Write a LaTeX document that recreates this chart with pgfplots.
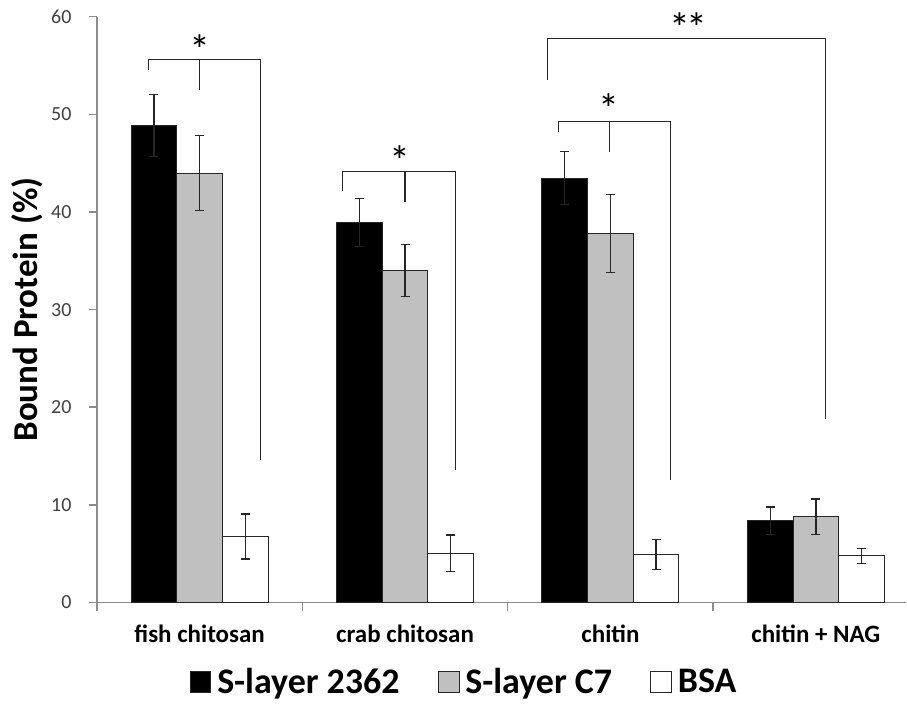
\documentclass[border=0pt]{standalone}
\usepackage{fontspec}
\setmainfont{Carlito}
\usepackage{pgfplots}
\pgfplotsset{compat=1.18}
\definecolor{axisgray}{HTML}{8C8C8C}
\definecolor{ticktext}{HTML}{404040}
\definecolor{bargray}{HTML}{C0C0C0}
\begin{document}
\begin{tikzpicture}
\begin{axis}[
  name=ax,
  scale only axis,
  width=810pt, height=586.3pt,
  xmin=-0.5, xmax=3.44, ymin=0, ymax=60,
  clip=false,
  ybar=0pt, bar width=45.7pt,
  axis x line=bottom, axis y line=left,
  axis line style={-, draw=axisgray, line width=1.5pt},
  ytick={0,10,...,60},
  tick align=outside,
  major tick length=8pt,
  tick style={draw=axisgray, line width=1.5pt},
  xtick={0,1,2,3},
  xticklabels={fish chitosan, crab chitosan, chitin, chitin + NAG},
  x tick style={draw=none},
  extra x ticks={-0.5,0.5,1.5,2.5},
  extra x tick labels={},
  extra x tick style={x tick style={draw=axisgray, line width=1.5pt}, major tick length=9pt},
  /pgf/number format/assume math mode=true,
  yticklabel shift=14pt,
  yticklabel style={font=\fontsize{20}{22}\selectfont, text=ticktext},
  xticklabel style={font=\bfseries\fontsize{25}{28}\selectfont, text=black, yshift=-11pt},
  ylabel={Bound Protein (\%)},
  every axis y label/.style={at={(axis description cs:-0.0864,0.5)}, rotate=90, anchor=center,
    font=\bfseries\fontsize{35}{40}\selectfont},
  legend style={at={(axis description cs:0.456,-0.135)}, anchor=center, draw=none,
    font=\bfseries\fontsize{36}{40}\selectfont,
    nodes={inner xsep=6pt},
    /tikz/every even column/.append style={column sep=32pt}},
  legend columns=3,
  legend image code/.code={\draw[#1, line width=0.8pt] (0pt,-10.5pt) rectangle (21pt,10.5pt);},
  error bars/y dir=both, error bars/y explicit,
  error bars/error bar style={line width=1.3pt, black!85},
  error bars/error mark options={line width=1.3pt, black!85, mark size=4.5pt, rotate=90},
]
\addplot[fill=black, draw=black!85, line width=1pt] table[x=x, y=y, y error=e] {
x y e
0 48.85 3.2
1 38.9 2.45
2 43.47 2.7
3 8.39 1.4
};
\addplot[fill=bargray, draw=black!85, line width=1pt] table[x=x, y=y, y error=e] {
x y e
0 43.97 3.85
1 34.0 2.65
2 37.77 4.0
3 8.8 1.8
};
\addplot[fill=white, draw=black!85, line width=1pt] table[x=x, y=y, y error=e] {
x y e
0 6.75 2.3
1 5.05 1.85
2 4.91 1.55
3 4.78 0.76
};
\legend{S-layer 2362, S-layer C7, BSA}
% significance brackets
\draw[black!85, line width=1.3pt] (axis cs:-0.25,54.55) -- (axis cs:-0.25,55.65) -- (axis cs:0.298,55.65) -- (axis cs:0.298,14.64);
\draw[black!85, line width=1.3pt] (axis cs:0,55.65) -- (axis cs:0,52.5);
\draw[black!85, line width=1.3pt] (axis cs:0.696,42.1) -- (axis cs:0.696,44.15) -- (axis cs:1.2445,44.15) -- (axis cs:1.2445,13.6);
\draw[black!85, line width=1.3pt] (axis cs:1.0,44.15) -- (axis cs:1.0,41.0);
\draw[black!85, line width=1.3pt] (axis cs:1.747,48.2) -- (axis cs:1.747,49.3) -- (axis cs:2.293,49.3) -- (axis cs:2.293,12.5);
\draw[black!85, line width=1.3pt] (axis cs:1.996,49.3) -- (axis cs:1.996,46.1);
\draw[black!85, line width=1.3pt] (axis cs:1.693,53.5) -- (axis cs:1.693,57.76) -- (axis cs:3.047,57.76) -- (axis cs:3.047,18.8);
\node[font=\fontsize{42}{46}\selectfont, inner sep=0pt, yshift=-9pt] at (axis cs:0,57.6) {*};
\node[font=\fontsize{42}{46}\selectfont, inner sep=0pt, yshift=-9pt] at (axis cs:0.974,46.2) {*};
\node[font=\fontsize{42}{46}\selectfont, inner sep=0pt, yshift=-9pt] at (axis cs:1.993,51.55) {*};
\node[font=\fontsize{42}{46}\selectfont, inner sep=0pt, yshift=-9pt] at (axis cs:2.38,59.85) {*\hspace{-4pt}*};
\end{axis}
\path (ax.south west) ++(-97pt,-101pt) rectangle ++(907pt,704pt);
\end{tikzpicture}
\end{document}
